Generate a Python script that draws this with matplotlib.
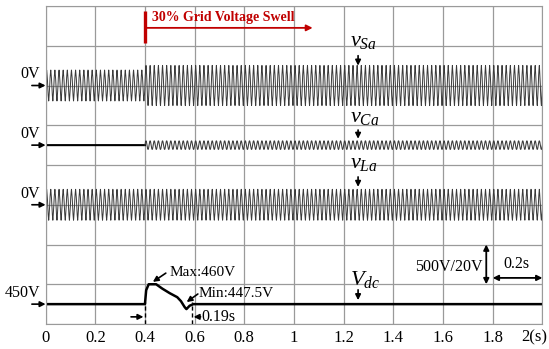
import numpy as np
import matplotlib.pyplot as plt
from matplotlib.transforms import ScaledTranslation

plt.rcParams['font.family'] = ['Liberation Serif', 'DejaVu Serif']
plt.rcParams['mathtext.fontset'] = 'custom'
plt.rcParams['mathtext.rm'] = 'Liberation Serif'
plt.rcParams['mathtext.it'] = 'Liberation Serif:italic'

# Datos de las formas de onda (amplitudes pico en V, antes y despues del swell)
f_red = 60.0
t_swell = 0.4
vsa_amp = [180.0, 234.0]
vca_amp = [0.0, 54.0]
vla_amp = [180.0, 180.0]
h5 = 0.08          # contenido de 5a armonica en vSa y vLa

# Tension del bus de CD
t_dc = [0, 0.400, 0.405, 0.415, 0.445, 0.47, 0.50, 0.53, 0.545, 0.560, 0.567, 0.58, 0.595, 2.0]
v_dc = [450, 450, 457, 460, 460, 457.8, 455.5, 453.5, 451.5, 448.5, 447.5, 449.2, 450, 450]

# Escalas: 500 V/div para tensiones de red, 20 V/div para Vdc
esc_ac = 500.0
esc_dc = 20.0
off_sa, off_ca, off_la = 6.0, 4.5, 3.0
ref_dc = 450.0
off_dc = 0.5

xticks = [0, 0.2, 0.4, 0.6, 0.8, 1.0, 1.2, 1.4, 1.6, 1.8, 2.0]
xlabels = ['0', '0.2', '0.4', '0.6', '0.8', '1', '1.2', '1.4', '1.6', '1.8', '2(s)']

t = np.linspace(0, 2, 30000)
w = 2*np.pi*f_red

def onda(amp, t, arm=0.0):
    a = np.where(t < t_swell, amp[0], amp[1])
    return a*(np.sin(w*t) + arm*np.sin(5*w*t))

vsa = onda(vsa_amp, t, h5)
vca = onda(vca_amp, t)
vla = onda(vla_amp, t, h5)

fig = plt.figure(figsize=(5.49, 3.49), dpi=100)
ax = fig.add_axes([0.083, 0.0716, 0.905, 0.9112])

gris = '#3a3a3a'
ax.plot(t, vsa/esc_ac + off_sa, color=gris, lw=0.7)
ax.plot(t, vla/esc_ac + off_la, color=gris, lw=0.7)
pre = t < t_swell
ax.plot(t[pre], vca[pre]/esc_ac + off_ca, color='k', lw=1.5)
ax.plot(t[~pre], vca[~pre]/esc_ac + off_ca, color=gris, lw=0.75)
ax.plot(t_dc, (np.array(v_dc) - ref_dc)/esc_dc + off_dc, color='k', lw=1.8)

ax.set_xlim(0, 2)
ax.set_ylim(0, 8)
ax.set_xticks(xticks)
ax.set_xticklabels(xlabels, fontsize=12)
ax.set_yticks(np.arange(0, 9, 1))
ax.set_yticklabels([])
ax.tick_params(length=0, pad=4)
ax.grid(True, color='#9a9a9a', lw=0.9)
for s in ax.spines.values():
    s.set_color('#9a9a9a')
# la etiqueta "2(s)" se recorre para que quepa
ult = ax.get_xticklabels()[-1]
ult.set_transform(ult.get_transform() + ScaledTranslation(-6/72, 0, fig.dpi_scale_trans))

flecha = dict(arrowstyle='-|>', color='k', lw=1.2, mutation_scale=8, shrinkA=0, shrinkB=0)

# Referencias de 0 V y 450 V
for y0, txt in [(off_sa, '0V'), (off_ca, '0V'), (off_la, '0V'), (off_dc, '450V')]:
    ax.annotate('', xy=(0, y0), xytext=(-0.055, y0), arrowprops=flecha, annotation_clip=False)
    ax.text(-0.022, y0 + 0.08, txt, ha='right', va='bottom', fontsize=11.5, clip_on=False)

# Nombres de las senales
etiquetas = [(7.0, 6.75, 6.5, r'$v_{Sa}$'), (5.08, 4.88, 4.66, r'$v_{Ca}$'),
             (3.92, 3.7, 3.45, r'$v_{La}$'), (0.98, 0.86, 0.6, r'$V_{dc}$')]
for yt, ya, yb, txt in etiquetas:
    ax.text(1.226, yt, txt, fontsize=16, ha='left', va='baseline')
    ax.annotate('', xy=(1.258, yb), xytext=(1.258, ya), arrowprops=flecha)

# Inicio del swell
rojo = '#c00000'
ax.plot([0.4, 0.4], [7.07, 7.87], color=rojo, lw=2.4, solid_capstyle='butt')
ax.annotate('', xy=(1.075, 7.45), xytext=(0.4, 7.45),
            arrowprops=dict(arrowstyle='-|>', color=rojo, lw=1.3, mutation_scale=9, shrinkA=0, shrinkB=0))
ax.text(0.428, 7.55, '30% Grid Voltage Swell', color=rojo, fontsize=10,
        fontweight='bold', ha='left', va='bottom')

# Maximo y minimo de Vdc
ax.annotate('', xy=(0.432, 1.06), xytext=(0.484, 1.28), arrowprops=flecha)
ax.text(0.50, 1.21, 'Max:460V', fontsize=11, ha='left', va='baseline')
ax.annotate('', xy=(0.568, 0.553), xytext=(0.613, 0.755), arrowprops=flecha)
ax.text(0.617, 0.68, 'Min:447.5V', fontsize=11, ha='left', va='baseline')

# Tiempo de recuperacion
ax.plot([0.4, 0.4], [0, 0.55], color='k', lw=1.0, ls=(0, (3, 2)))
ax.plot([0.59, 0.59], [0, 0.55], color='k', lw=1.0, ls=(0, (3, 2)))
ax.annotate('', xy=(0.394, 0.18), xytext=(0.344, 0.18), arrowprops=flecha)
ax.annotate('', xy=(0.596, 0.18), xytext=(0.624, 0.18), arrowprops=flecha)
ax.text(0.629, 0.18, '0.19s', fontsize=11.5, ha='left', va='center')

# Escalas
doble = dict(arrowstyle='<|-|>', color='k', lw=1.3, mutation_scale=8, shrinkA=0, shrinkB=0)
ax.annotate('', xy=(1.774, 2.0), xytext=(1.774, 1.0), arrowprops=doble)
ax.text(1.758, 1.43, '500V/20V', fontsize=11.5, ha='right', va='center')
ax.annotate('', xy=(2.0, 1.16), xytext=(1.8, 1.16), arrowprops=doble, annotation_clip=False)
ax.text(1.895, 1.3, '0.2s', fontsize=11.5, ha='center', va='bottom')

fig.savefig('out.png', dpi=100)
